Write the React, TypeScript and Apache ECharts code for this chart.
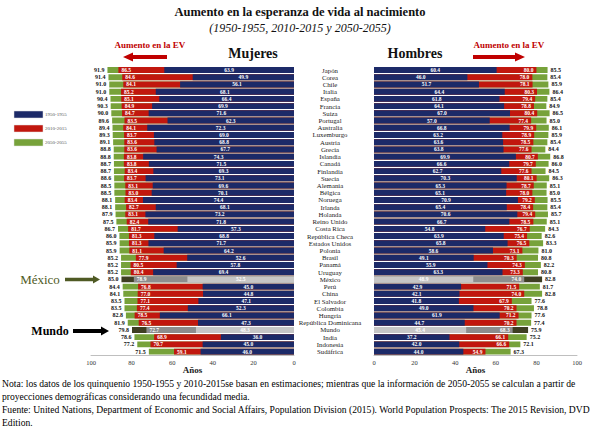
import React, { useEffect, useRef } from 'react';
import * as echarts from 'echarts';

const countries = ['Japón','Corea','Chile','Italia','España','Francia','Suiza','Portugal','Australia','Luxemburgo','Austria','Grecia','Islandia','Canadá','Finlandia','Suecia','Alemania','Bélgica','Noruega','Irlanda','Holanda','Reino Unido','Costa Rica','República Checa','Estados Unidos','Polonia','Brasil','Panamá','Uruguay','México','Perú','China','El Salvador','Colombia','Hungría','República Dominicana','Mundo','India','Indonesia','Sudáfrica'];

const mujeres1950 = [63.9,49.9,56.1,68.1,66.4,69.9,71.6,62.3,72.3,69.0,68.8,67.7,74.3,71.5,69.3,73.1,69.6,70.1,74.4,68.1,73.2,71.8,57.3,68.8,71.7,64.2,52.6,57.8,69.4,52.5,45.0,44.8,47.1,52.3,66.1,47.3,48.3,36.0,45.0,46.0];
const mujeres2010 = [86.5,84.6,84.1,85.2,85.1,84.9,84.7,83.5,84.1,83.7,83.6,83.6,83.8,83.8,83.4,83.7,83.1,83.0,83.4,82.7,83.1,82.4,81.7,81.3,81.3,81.1,77.9,80.5,80.4,78.9,76.8,77.0,77.1,77.4,78.5,76.5,72.7,68.9,70.7,59.1];
const mujeres2050 = [91.9,91.4,91.0,91.0,90.4,90.3,90.0,89.6,89.4,89.3,89.1,88.8,88.8,88.7,88.7,88.6,88.5,88.5,88.1,88.1,87.9,87.5,86.7,86.0,85.9,85.9,85.2,85.2,85.2,85.0,84.4,84.1,83.5,83.5,82.8,81.9,79.8,78.6,77.2,71.5];

const hombres1950 = [60.4,46.0,51.7,64.4,61.8,64.1,67.0,57.0,66.8,63.2,63.6,63.8,69.9,66.6,62.7,70.3,65.3,65.1,70.9,65.4,70.6,66.7,54.8,63.9,65.8,58.6,49.1,55.9,63.3,48.9,42.9,42.1,41.8,49.0,61.9,44.7,45.4,37.2,42.0,44.0];
const hombres2010 = [80.0,78.0,78.1,80.3,79.4,78.8,80.4,77.4,79.9,78.9,78.5,77.6,80.7,79.7,77.6,80.1,78.7,78.0,79.2,78.4,79.4,78.5,76.7,75.4,76.5,73.1,70.3,74.3,73.3,74.0,71.5,74.0,67.9,70.2,71.2,70.2,68.3,66.1,66.6,54.9];
const hombres2050 = [85.5,85.4,85.9,86.4,85.4,84.9,86.5,85.0,86.1,85.9,85.4,84.4,86.8,86.0,84.5,86.3,85.1,85.0,85.5,85.4,85.7,85.1,84.3,82.6,83.3,81.0,80.8,82.2,80.8,82.8,81.7,82.8,77.6,78.8,77.6,77.4,75.9,75.2,72.1,67.3];

const periods = ['1950-1955', '2010-2015', '2050-2055'];
const xTicks = [0, 20, 40, 60, 80, 100];
const highlighted = ['México', 'Mundo'];

const FONT = 'Liberation Serif';
const NAVY = '#1c2a68';
const RED = '#c1170e';
const GREEN = '#77a23a';
const GRAY_LIGHT = '#c6c6c6';
const GRAY_MID = '#8d8d8d';
const GRAY_DARK = '#3e3e22';

const ROW_TOP = 66.4;
const ROW_H = 288.8;

function buildItems(values: number[], grayColor: string) {
  return values.map((v, i) =>
    highlighted.includes(countries[i]) ? { value: v, itemStyle: { color: grayColor } } : v
  );
}

function fmt(p: any) {
  return Number(p.value).toFixed(1);
}

function panelSeries(idx: number, v1950: number[], v2010: number[], v2050: number[], left: boolean) {
  const base = { type: 'bar', xAxisIndex: idx, yAxisIndex: idx, barCategoryGap: '18%', barGap: '-100%' };
  const labelBase = { show: true, fontFamily: FONT, fontWeight: 'bold', fontSize: 5.5, formatter: fmt };
  return [
    {
      ...base,
      name: periods[2],
      itemStyle: { color: GREEN },
      data: buildItems(v2050, GRAY_DARK),
      label: { ...labelBase, position: left ? 'left' : 'right', distance: 3, color: '#111', fontSize: 6 },
    },
    {
      ...base,
      name: periods[1],
      itemStyle: { color: RED },
      data: buildItems(v2010, GRAY_MID),
      label: { ...labelBase, position: left ? 'insideLeft' : 'insideRight', distance: 3, color: '#fff' },
    },
    {
      ...base,
      name: periods[0],
      itemStyle: { color: NAVY },
      data: buildItems(v1950, GRAY_LIGHT),
      label: { ...labelBase, position: 'inside', color: '#fff' },
    },
  ];
}

function xAxis(idx: number, inverse: boolean) {
  return {
    type: 'value',
    gridIndex: idx,
    min: xTicks[0],
    max: xTicks[xTicks.length - 1],
    interval: 20,
    inverse,
    axisLine: { show: true, lineStyle: { color: '#bfbfbf', width: 1 } },
    axisTick: { show: false },
    splitLine: { show: false },
    axisLabel: { fontFamily: FONT, fontSize: 6.5, color: '#333', margin: 4 },
  };
}

function arrow(tipX: number, baseX: number, y: number, shaft: number, head: number, headLen: number) {
  const dir = tipX < baseX ? 1 : -1;
  const hx = tipX + dir * headLen;
  return [
    [baseX, y - shaft / 2],
    [hx, y - shaft / 2],
    [hx, y - head / 2],
    [tipX, y],
    [hx, y + head / 2],
    [hx, y + shaft / 2],
    [baseX, y + shaft / 2],
  ];
}

function txt(text: string, x: number, y: number, font: string, fill: string, align = 'left') {
  return { type: 'text', style: { text, x, y, font, fill, textAlign: align, textVerticalAlign: 'middle' } };
}

export default function App() {
  const ref = useRef<HTMLDivElement>(null);
  useEffect(() => {
    document.body.style.margin = '0';
    const chart = echarts.init(ref.current!, null, { renderer: 'svg' });
    const legendColors = [NAVY, RED, GREEN];
    const NOTE_FONT = `9.6px "${FONT}"`;
    const graphic: any[] = [
      txt('Aumento en la esperanza de vida al nacimiento', 300, 12, `bold 12.5px "${FONT}"`, '#111', 'center'),
      txt('(1950-1955, 2010-2015 y 2050-2055)', 300, 28, `italic 12px "${FONT}"`, '#111', 'center'),
      txt('Mujeres', 253, 53, `bold 14px "${FONT}"`, '#111', 'center'),
      txt('Hombres', 415, 53, `bold 14px "${FONT}"`, '#111', 'center'),
      txt('Aumento en la EV', 150, 45, `bold 9px "${FONT}"`, '#c00000', 'center'),
      txt('Aumento en la EV', 509, 45, `bold 9px "${FONT}"`, '#c00000', 'center'),
      { type: 'polygon', shape: { points: arrow(123, 167, 57, 4, 9, 10) }, style: { fill: '#c00000' } },
      { type: 'polygon', shape: { points: arrow(525, 473, 57, 4, 9, 10) }, style: { fill: '#c00000' } },
      txt('México', 40, 279.5, `13px "${FONT}"`, '#4f5a24', 'center'),
      { type: 'polygon', shape: { points: arrow(100, 65, 279.5, 3.5, 8, 7) }, style: { fill: '#4f5a24' } },
      txt('Mundo', 50, 331, `bold 12px "${FONT}"`, '#000', 'center'),
      { type: 'polygon', shape: { points: arrow(109, 73, 331, 4, 9, 8) }, style: { fill: '#000' } },
      txt('Años', 192.5, 370, `bold 9px "${FONT}"`, '#222', 'center'),
      txt('Años', 475.5, 370, `bold 9px "${FONT}"`, '#222', 'center'),
      txt('Nota: los datos de los quinquenio 1950-1955 y 2010-2015se basan en estimaciones; mientras que la información de 2050-2055 se calculan a partir de', 2, 383, NOTE_FONT, '#000'),
      txt('proyecciones demográficas considerando una fecundidad media.', 2, 396, NOTE_FONT, '#000'),
      txt('Fuente: United Nations, Department of Economic and Social Affairs, Population Division (2015). World Population Prospects: The 2015 Revision, DVD', 2, 409, NOTE_FONT, '#000'),
      txt('Edition.', 2, 422, NOTE_FONT, '#000'),
    ];
    periods.forEach((p, i) => {
      const y = 111 + i * 14;
      graphic.push({ type: 'rect', shape: { x: 14, y, width: 29, height: 7 }, style: { fill: legendColors[i], stroke: '#e0e0e0', lineWidth: 0.5 } });
      graphic.push(txt(p, 45, y + 3.5, `5px "${FONT}"`, '#555'));
    });

    chart.setOption({
      animation: false,
      backgroundColor: '#fff',
      textStyle: { fontFamily: FONT },
      grid: [
        { left: 91, width: 203, top: ROW_TOP, height: ROW_H },
        { left: 374, width: 203, top: ROW_TOP, height: ROW_H },
      ],
      xAxis: [xAxis(0, true), xAxis(1, false)],
      yAxis: [
        { type: 'category', gridIndex: 0, data: countries, inverse: true, show: false },
        {
          type: 'category', gridIndex: 1, data: countries, inverse: true,
          axisLine: { show: false }, axisTick: { show: false },
          axisLabel: { align: 'center', margin: 44, fontFamily: FONT, fontSize: 6.8, color: '#222', interval: 0 },
        },
      ],
      series: [
        ...panelSeries(0, mujeres1950, mujeres2010, mujeres2050, true),
        ...panelSeries(1, hombres1950, hombres2010, hombres2050, false),
      ],
      graphic,
    });
    return () => chart.dispose();
  }, []);
  return <div ref={ref} style={{ width: 600, height: 429 }} />;
}
